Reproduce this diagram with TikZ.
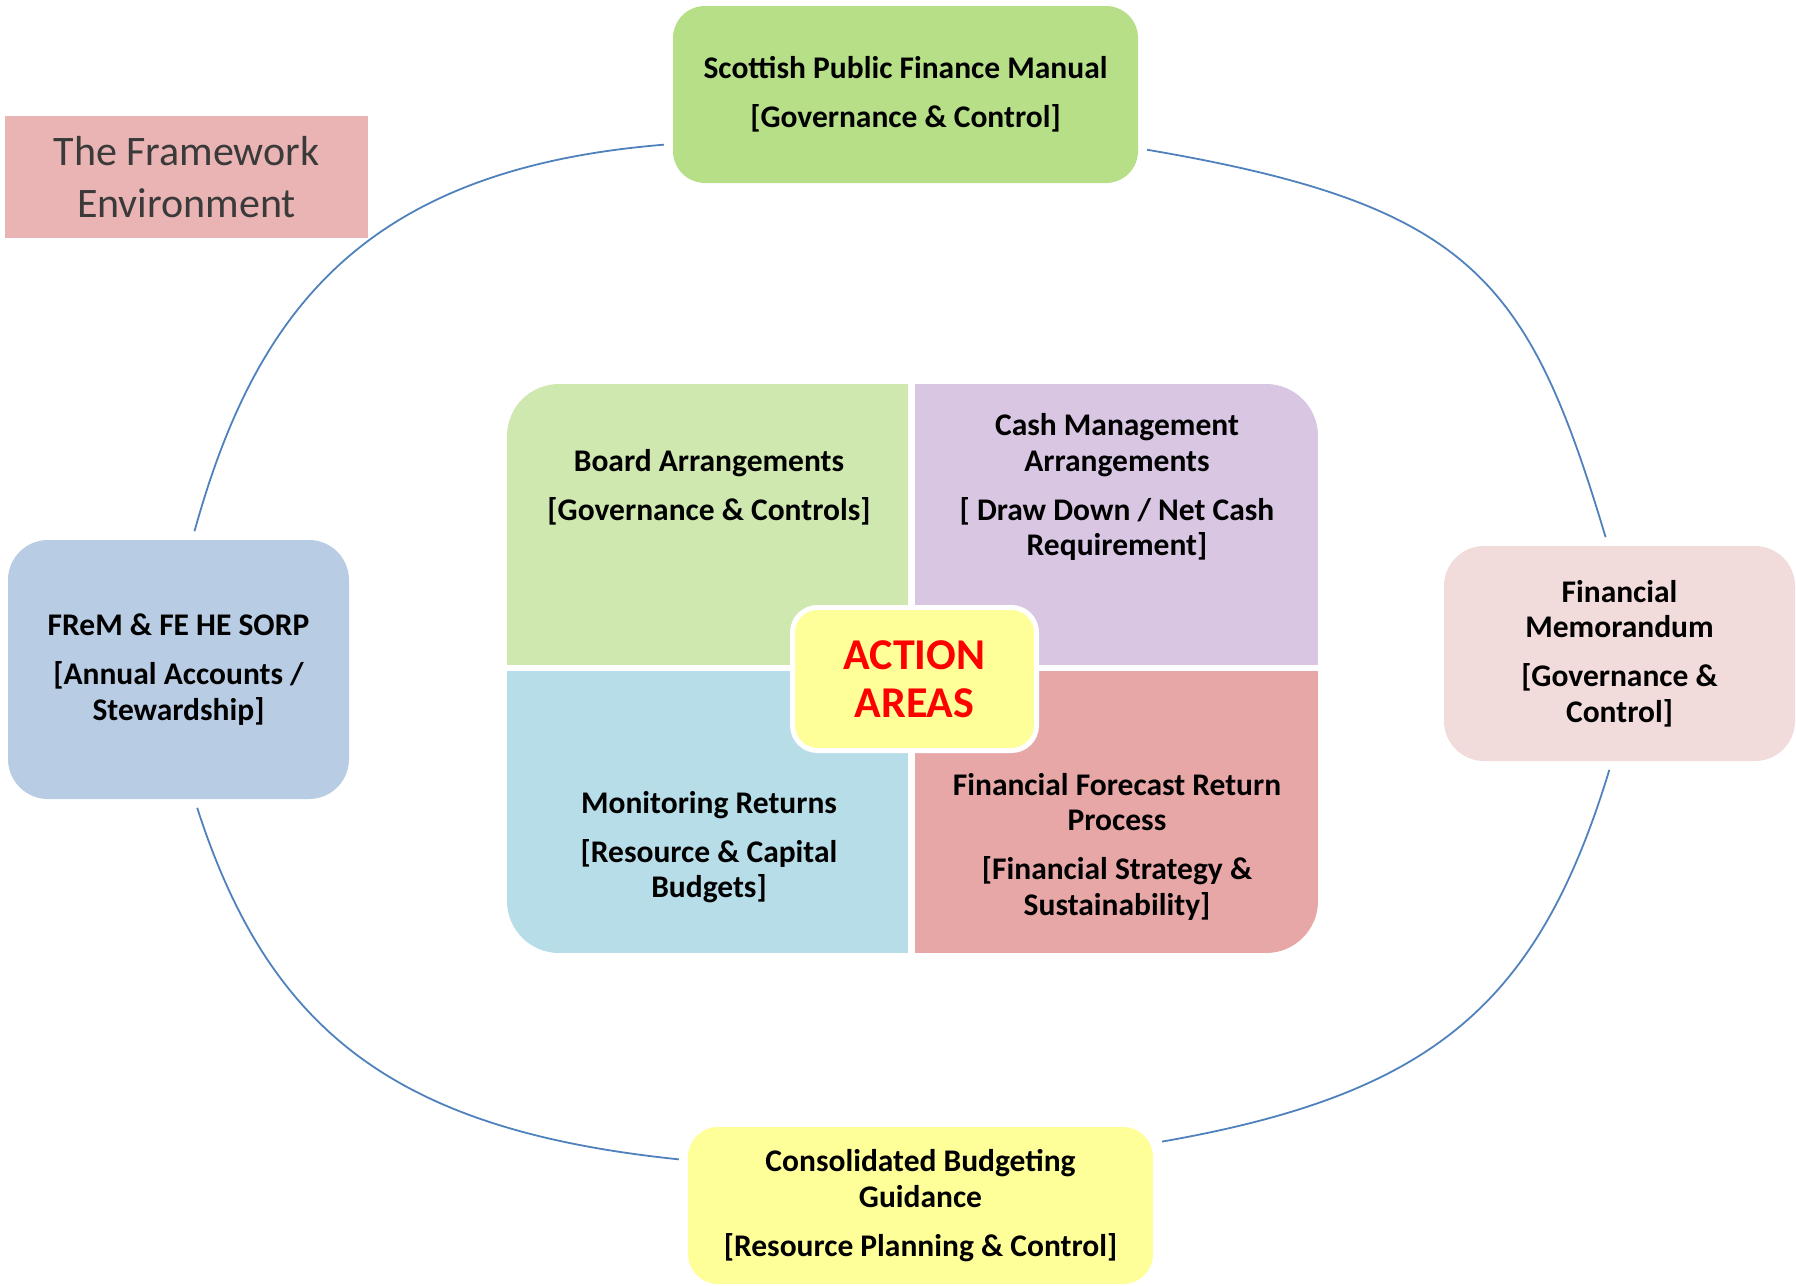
\documentclass[tikz,border=0pt]{standalone}
\usepackage{fontspec}
\setmainfont{Carlito}
\usepackage{tikz}
\definecolor{fwtitle}{HTML}{EBB4B4}
\definecolor{fwgreen}{HTML}{B6DF88}
\definecolor{fwblue}{HTML}{B8CCE4}
\definecolor{fwpink}{HTML}{F2DCDB}
\definecolor{fwyellow}{HTML}{FFFF99}
\definecolor{fwline}{HTML}{4F81BD}
\definecolor{fwgray}{HTML}{3A3A3A}
\definecolor{aaboard}{HTML}{CFE8AF}
\definecolor{aacash}{HTML}{D8C6E3}
\definecolor{aamonitor}{HTML}{B7DDE8}
\definecolor{aaforecast}{HTML}{E8A7A7}
\definecolor{aared}{HTML}{FF0000}
\newcommand{\fwboxfont}{\fontsize{31.5}{35.5}\selectfont\bfseries}
\newcommand{\fwtitlefont}{\fontsize{42}{52.7}\selectfont}
\newcommand{\fwactfont}{\fontsize{44}{48}\selectfont\bfseries}

\begin{document}
\begin{tikzpicture}[x=1pt,y=-1pt,
  framebox/.style={rounded corners=#1,inner sep=0pt,align=center,font=\fwboxfont},
  areatext/.style={inner sep=0pt,align=center,font=\fwboxfont},
  link/.style={fwline,line width=1.8,shorten <=9,shorten >=9}]
  \useasboundingbox (0,0) rectangle (1796,1285);

  \node[fill=fwtitle,minimum width=363,minimum height=122,inner sep=0pt,
    align=center,text=fwgray,font=\fwtitlefont] (title) at (186.5,177) {The Framework\\Environment};

  \node[framebox=32,fill=fwgreen,minimum width=465,minimum height=177] (spfm) at (905.5,94.5)
    {Scottish Public Finance Manual\\[13.5pt][Governance \& Control]};
  \node[framebox=40,fill=fwblue,minimum width=341,minimum height=259] (frem) at (178.5,669.5)
    {FReM \& FE HE SORP\\[13.5pt][Annual Accounts /\\Stewardship]};
  \node[framebox=40,fill=fwpink,minimum width=351,minimum height=215] (fm) at (1619.5,653.5)
    {Financial\\Memorandum\\[13.5pt][Governance \&\\Control]};
  \node[framebox=30,fill=fwyellow,minimum width=465,minimum height=157] (cbg) at (920.5,1205.5)
    {Consolidated Budgeting\\Guidance\\[13.5pt][Resource Planning \& Control]};

  \draw[link] (spfm.192) .. controls +(-307,25) and +(64,-231) .. (frem.84);
  \draw[link] (spfm.347) .. controls +(334,57) and +(-80,-267) .. (fm.96);
  \draw[link] (frem.277) .. controls +(75,233) and +(-291,-30) .. (cbg.169);
  \draw[link] (fm.266) .. controls +(-74,243) and +(280,-49) .. (cbg.15);

  \begin{scope}
    \clip[rounded corners=52] (507,384) rectangle (1318,953);
    \foreach \xa/\ya/\xb/\yb/\c in {507/384/908/665/aaboard, 915/384/1318/665/aacash,
      507/671/908/953/aamonitor, 915/671/1318/953/aaforecast}
      \fill[\c] (\xa,\ya) rectangle (\xb,\yb);
  \end{scope}

  \node[areatext] (board) at (709,487.5) {Board Arrangements\\[13.5pt][Governance \& Controls]};
  \node[areatext] (cash) at (1117,487) {Cash Management\\Arrangements\\[13.5pt][ Draw Down / Net Cash\\Requirement]};
  \node[areatext] (monitor) at (709,847) {Monitoring Returns\\[13.5pt][Resource \& Capital\\Budgets]};
  \node[areatext] (forecast) at (1117,846.5) {Financial Forecast Return\\Process\\[13.5pt][Financial Strategy \&\\Sustainability]};

  \node[fill=fwyellow,draw=white,line width=5,rounded corners=25,minimum width=244,minimum height=143,
    inner sep=0pt,align=center,text=aared,font=\fwactfont] (action) at (914.5,679) {ACTION\\AREAS};
\end{tikzpicture}
\end{document}
